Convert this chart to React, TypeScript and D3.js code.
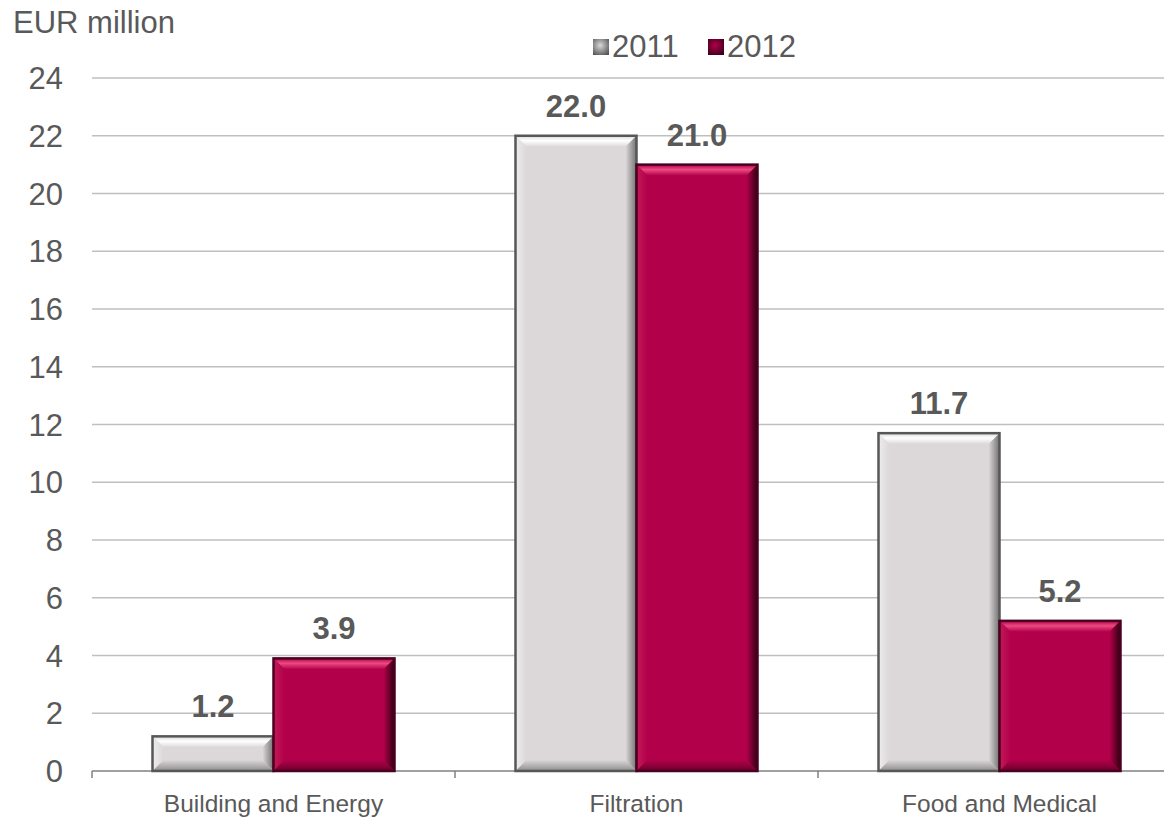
import React from 'react';
import * as d3 from 'd3';

const categories = ['Building and Energy', 'Filtration', 'Food and Medical'];
const seriesNames = ['2011', '2012'];
const values2011 = [1.2, 22.0, 11.7];
const values2012 = [3.9, 21.0, 5.2];
const yTicks = [0, 2, 4, 6, 8, 10, 12, 14, 16, 18, 20, 22, 24];

const W = 1164;
const H = 817;
const font = 'Arial, "Liberation Sans", sans-serif';
const textColor = '#595959';

// per-series bevel palette
const palettes = [
  { base: '#dcd8d9', edge: '#575757', top: '#ffffff', left: '#eeecec', right: '#727070', bottom: '#8e8c8c' },
  { base: '#b3004b', edge: '#4a0020', top: '#ec4a80', left: '#c21a58', right: '#2e0010', bottom: '#6a0029' },
];

const App: React.FC = () => {
  const x0 = d3.scaleBand<string>()
    .domain(categories)
    .range([92, 1181])
    .paddingInner(1 / 3)
    .paddingOuter(1 / 6);

  const x1 = d3.scaleBand<string>()
    .domain(seriesNames)
    .range([0, x0.bandwidth()])
    .padding(0);

  const y = d3.scaleLinear().domain([0, 24]).range([771, 78]);

  const series = [values2011, values2012];
  const step = x0.step();
  const boundaries = [0, 1, 2].map(i => 92 + i * step);

  const legendItems = [
    { name: seriesNames[0], sx: 593, tx: 612 },
    { name: seriesNames[1], sx: 708, tx: 727 },
  ];

  return (
    <svg width={W} height={H} style={{ position: 'absolute', left: 0, top: 0, background: '#fff' }}
      fontFamily={font}>
      <defs>
        {palettes.map((p, i) => (
          <React.Fragment key={i}>
            <linearGradient id={`top${i}`} x1="0" y1="0" x2="0" y2="1">
              <stop offset="0%" stopColor={p.base} />
              <stop offset="45%" stopColor={p.top} />
              <stop offset="100%" stopColor={p.base} />
            </linearGradient>
            <linearGradient id={`left${i}`} x1="0" y1="0" x2="1" y2="0">
              <stop offset="0%" stopColor={p.left} />
              <stop offset="100%" stopColor={p.base} />
            </linearGradient>
            <linearGradient id={`right${i}`} x1="0" y1="0" x2="1" y2="0">
              <stop offset="0%" stopColor={p.base} />
              <stop offset="100%" stopColor={p.right} />
            </linearGradient>
            <linearGradient id={`bottom${i}`} x1="0" y1="0" x2="0" y2="1">
              <stop offset="0%" stopColor={p.base} />
              <stop offset="100%" stopColor={p.bottom} />
            </linearGradient>
            <radialGradient id={`leg${i}`} cx="0.45" cy="0.4" r="0.7">
              <stop offset="0%" stopColor={i === 0 ? '#d8d8d8' : '#b0004a'} />
              <stop offset="100%" stopColor={i === 0 ? '#555' : '#3a0018'} />
            </radialGradient>
          </React.Fragment>
        ))}
      </defs>

      <text x={13} y={33} fontSize={31} fill={textColor}>EUR million</text>

      {/* legend */}
      {legendItems.map((l, i) => (
        <g key={l.name}>
          <rect x={l.sx} y={39} width={16} height={16} fill={`url(#leg${i})`} />
          <text x={l.tx} y={57} fontSize={31} fill={textColor}>{l.name}</text>
        </g>
      ))}

      {/* gridlines + y labels */}
      {yTicks.map(t => (
        <g key={t}>
          {t > 0 && <line x1={92} x2={W} y1={y(t)} y2={y(t)} stroke="#bfbfbf" strokeWidth={1.5} />}
          <text x={63} y={y(t)} dy="0.36em" textAnchor="end" fontSize={31} fill={textColor}>{t}</text>
        </g>
      ))}

      {/* x axis */}
      <line x1={92} x2={W} y1={y(0)} y2={y(0)} stroke="#808080" strokeWidth={1.5} />
      {boundaries.map((b, i) => (
        <line key={i} x1={b} x2={b} y1={y(0)} y2={y(0) + 7} stroke="#808080" strokeWidth={1.5} />
      ))}
      {categories.map(c => (
        <text key={c} x={(x0(c) ?? 0) + x0.bandwidth() / 2} y={812} textAnchor="middle"
          fontSize={24.5} fill={textColor}>{c}</text>
      ))}

      {/* bars */}
      {categories.map((c, ci) => (
        <g key={c} transform={`translate(${x0(c)},0)`}>
          {series.map((vals, si) => {
            const v = vals[ci];
            const bx = x1(seriesNames[si]) ?? 0;
            const bw = x1.bandwidth();
            const by = y(v);
            const bh = y(0) - by;
            const b = Math.min(11, bh / 3);
            const pal = palettes[si];
            return (
              <g key={si}>
                <rect x={bx} y={by} width={bw} height={bh} fill={pal.base} />
                <polygon points={`${bx},${by} ${bx + bw},${by} ${bx + bw - b},${by + b} ${bx + b},${by + b}`}
                  fill={`url(#top${si})`} />
                <polygon points={`${bx},${by} ${bx + b},${by + b} ${bx + b},${by + bh - b} ${bx},${by + bh}`}
                  fill={`url(#left${si})`} />
                <polygon points={`${bx + bw},${by} ${bx + bw},${by + bh} ${bx + bw - b},${by + bh - b} ${bx + bw - b},${by + b}`}
                  fill={`url(#right${si})`} />
                <polygon points={`${bx},${by + bh} ${bx + bw},${by + bh} ${bx + bw - b},${by + bh - b} ${bx + b},${by + bh - b}`}
                  fill={`url(#bottom${si})`} />
                <rect x={bx} y={by} width={bw} height={bh} fill="none" stroke={pal.edge} strokeWidth={2.5} />
                <text x={bx + bw / 2} y={by - 19} textAnchor="middle" fontSize={31} fontWeight="bold"
                  fill={textColor}>{v.toFixed(1)}</text>
              </g>
            );
          })}
        </g>
      ))}
    </svg>
  );
};

export default App;
